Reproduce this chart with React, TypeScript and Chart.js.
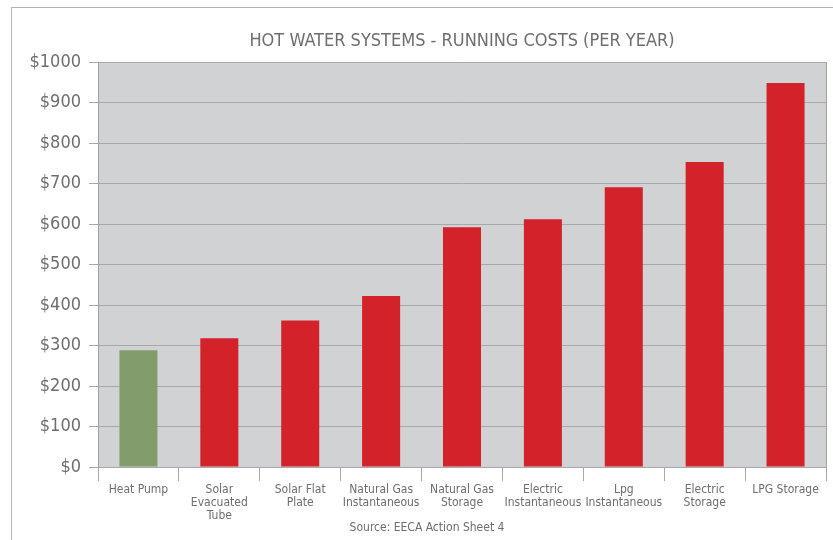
import React, { useEffect, useRef } from "react";
import { Chart, registerables } from "chart.js";

Chart.register(...registerables);

const categories: (string | string[])[] = [
  "Heat Pump",
  ["Solar", "Evacuated", "Tube"],
  ["Solar Flat", "Plate"],
  ["Natural Gas", "Instantaneous"],
  ["Natural Gas", "Storage"],
  ["Electric", "Instantaneous"],
  ["Lpg", "Instantaneous"],
  ["Electric", "Storage"],
  "LPG Storage",
];
const runningCosts = [288, 318, 362, 422, 592, 612, 691, 753, 948];
const barColors = [
  "#829c6c", "#d3222a", "#d3222a", "#d3222a", "#d3222a",
  "#d3222a", "#d3222a", "#d3222a", "#d3222a",
];
const titleText = "HOT WATER SYSTEMS - RUNNING COSTS (PER YEAR)";
const sourceText = "Source: EECA Action Sheet 4";
const yMin = 0;
const yMax = 1000;
const yStep = 100;

const FONT = '"Liberation Sans Narrow", "DejaVu Sans Condensed", sans-serif';

const decorPlugin = {
  id: "decor",
  beforeDraw(chart: any) {
    const { ctx, chartArea } = chart;
    ctx.save();
    ctx.fillStyle = "#d1d2d4";
    ctx.fillRect(chartArea.left, chartArea.top, chartArea.right - chartArea.left, chartArea.bottom - chartArea.top);
    ctx.restore();
  },
  afterDraw(chart: any) {
    const { ctx, chartArea } = chart;
    ctx.save();
    ctx.strokeStyle = "#a3a3a3";
    ctx.lineWidth = 1;
    ctx.beginPath();
    ctx.moveTo(chartArea.right + 0.5, chartArea.top);
    ctx.lineTo(chartArea.right + 0.5, chartArea.bottom);
    ctx.stroke();
    ctx.fillStyle = "#6d6e70";
    ctx.textAlign = "center";
    ctx.textBaseline = "middle";
    ctx.font = `18px ${FONT}`;
    ctx.fillText(titleText, (chartArea.left + chartArea.right) / 2, 41);
    ctx.font = `12px ${FONT}`;
    ctx.fillText(sourceText, 427, 528);
    ctx.restore();
  },
};

export default function App() {
  const ref = useRef<HTMLCanvasElement>(null);
  useEffect(() => {
    if (!ref.current) return;
    const chart = new Chart(ref.current, {
      type: "bar",
      data: {
        labels: categories,
        datasets: [
          {
            data: runningCosts,
            backgroundColor: barColors,
            borderWidth: 0,
            barPercentage: 0.47,
            categoryPercentage: 1,
          },
        ],
      },
      plugins: [decorPlugin],
      options: {
        animation: false,
        responsive: false,
        layout: { padding: { left: 0, right: 7, top: 62, bottom: 0 } },
        plugins: { legend: { display: false }, tooltip: { enabled: false }, title: { display: false } },
        scales: {
          x: {
            afterFit(scale: any) { scale.height = 73; },
            grid: { drawOnChartArea: false, tickLength: 14, color: "#a8a8a8", offset: true },
            border: { color: "#a8a8a8" },
            ticks: {
              autoSkip: false,
              maxRotation: 0,
              minRotation: 0,
              padding: 2,
              color: "#6d6e70",
              font: { family: FONT, size: 12, lineHeight: 1.1 },
            },
          },
          y: {
            min: yMin,
            max: yMax,
            afterFit(scale: any) { scale.width = 98; },
            grid: { color: "#a8a8a8", tickLength: 9 },
            border: { color: "#a0a0a0" },
            ticks: {
              stepSize: yStep,
              padding: 8,
              color: "#6d6e70",
              font: { family: FONT, size: 18 },
              callback: (v: any) => "$" + v,
            },
          },
        },
      },
    });
    return () => chart.destroy();
  }, []);
  return (
    <div style={{ position: "fixed", left: 0, top: 0, width: 833, height: 540, overflow: "hidden", background: "#fff" }}>
      <div style={{ position: "absolute", left: 11, top: 7, width: 900, height: 600, borderLeft: "1px solid #b5b5b5", borderTop: "1px solid #b5b5b5" }} />
      <canvas ref={ref} width={833} height={540} style={{ position: "absolute", left: 0, top: 0, width: 833, height: 540 }} />
    </div>
  );
}
